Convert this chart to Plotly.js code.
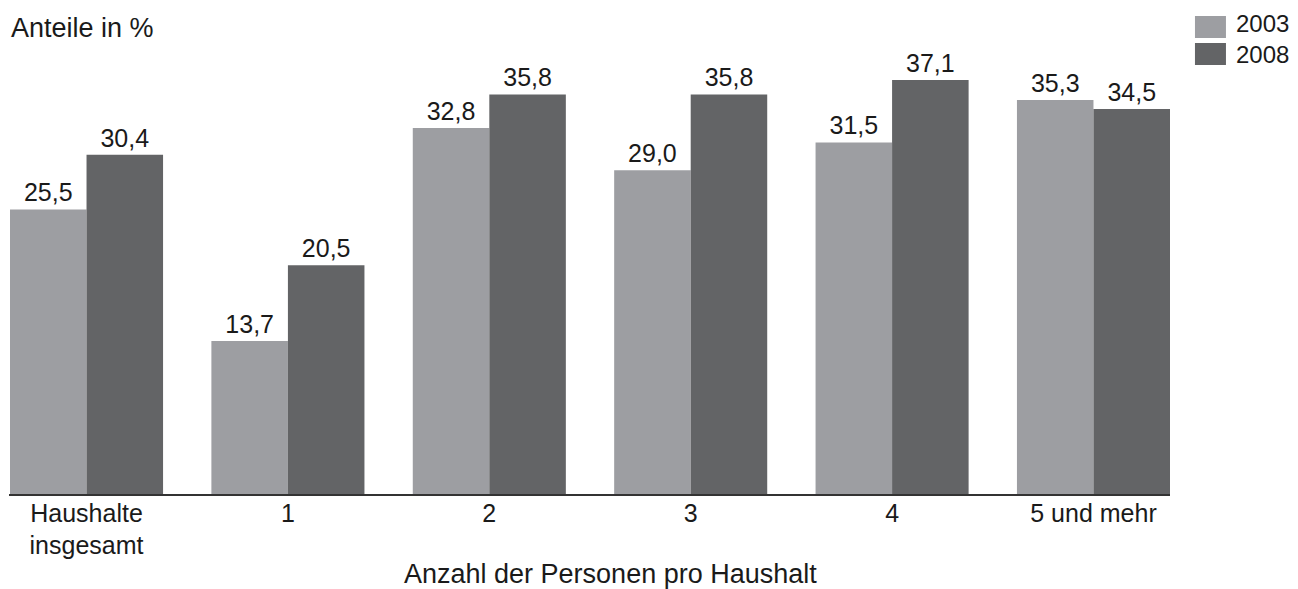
<!DOCTYPE html>
<html>
<head>
<meta charset="utf-8">
<script src="https://cdn.plot.ly/plotly-3.0.1.min.js"></script>
<style>html,body{margin:0;padding:0;background:#fff;}#chart{width:1298px;height:589px;}</style>
</head>
<body>
<div id="chart"></div>
<script>
const categories = ["Haushalte<br>insgesamt", "1", "2", "3", "4", "5 und mehr"];
const seriesNames = ["2003", "2008"];
const values2003 = [25.5, 13.7, 32.8, 29.0, 31.5, 35.3];
const values2008 = [30.4, 20.5, 35.8, 35.8, 37.1, 34.5];
const seriesColors = ["#9d9ea2", "#636466"];
const yLabel = "Anteile in %";
const xLabel = "Anzahl der Personen pro Haushalt";

const FONT = "Liberation Sans, Arial, sans-serif";
const TXT = "#1a1a1a";

function barTrace(name, vals, color) {
  return {
    type: "bar", name: name, x: categories, y: vals,
    marker: {color: color, line: {width: 0}},
    text: vals.map(v => v.toFixed(1).replace(".", ",")),
    textposition: "outside", cliponaxis: false,
    textfont: {family: FONT, size: 25, color: TXT},
    hoverinfo: "skip"
  };
}

const data = [
  barTrace(seriesNames[0], values2003, seriesColors[0]),
  barTrace(seriesNames[1], values2008, seriesColors[1])
];

const legendBoxes = [[1.1014, 1.0507], [1.0392, 0.9885]];
const legendTextY = [1.083, 1.0138];
const shapes = seriesNames.map((n, i) => ({
  type: "rect", xref: "paper", yref: "paper",
  x0: 1.0215, x1: 1.0482, y0: legendBoxes[i][1], y1: legendBoxes[i][0],
  fillcolor: seriesColors[i], line: {width: 0}
}));
const annotations = seriesNames.map((n, i) => ({
  text: n, xref: "paper", yref: "paper", x: 1.055, y: legendTextY[i],
  xanchor: "left", yanchor: "middle", showarrow: false,
  font: {family: FONT, size: 24, color: TXT}
}));
annotations.push({
  text: yLabel, xref: "paper", yref: "paper", x: 0, y: 1.0737,
  xanchor: "left", yanchor: "middle", showarrow: false,
  font: {family: FONT, size: 27, color: TXT}
});
annotations.push({
  text: xLabel, xref: "paper", yref: "paper", x: 0.5185, y: -0.184,
  xanchor: "center", yanchor: "middle", showarrow: false,
  font: {family: FONT, size: 27, color: TXT}
});

const layout = {
  width: 1298, height: 589,
  margin: {l: 9, r: 128, t: 60, b: 95, pad: 0},
  paper_bgcolor: "#ffffff", plot_bgcolor: "#ffffff",
  showlegend: false,
  barmode: "group", bargap: 0.24, bargroupgap: 0,
  separators: ",.",
  font: {family: FONT, color: TXT},
  xaxis: {
    type: "category", range: [-0.385, 5.38],
    showline: true, linecolor: "#333333", linewidth: 1.5,
    ticks: "", showgrid: false, zeroline: false,
    ticklabelstandoff: -4,
    tickfont: {family: FONT, size: 25, color: TXT}
  },
  yaxis: {
    range: [0, 38.89], visible: false, showgrid: false, zeroline: false
  },
  shapes: shapes,
  annotations: annotations
};

Plotly.newPlot("chart", data, layout, {displayModeBar: false, staticPlot: true});
</script>
</body>
</html>
